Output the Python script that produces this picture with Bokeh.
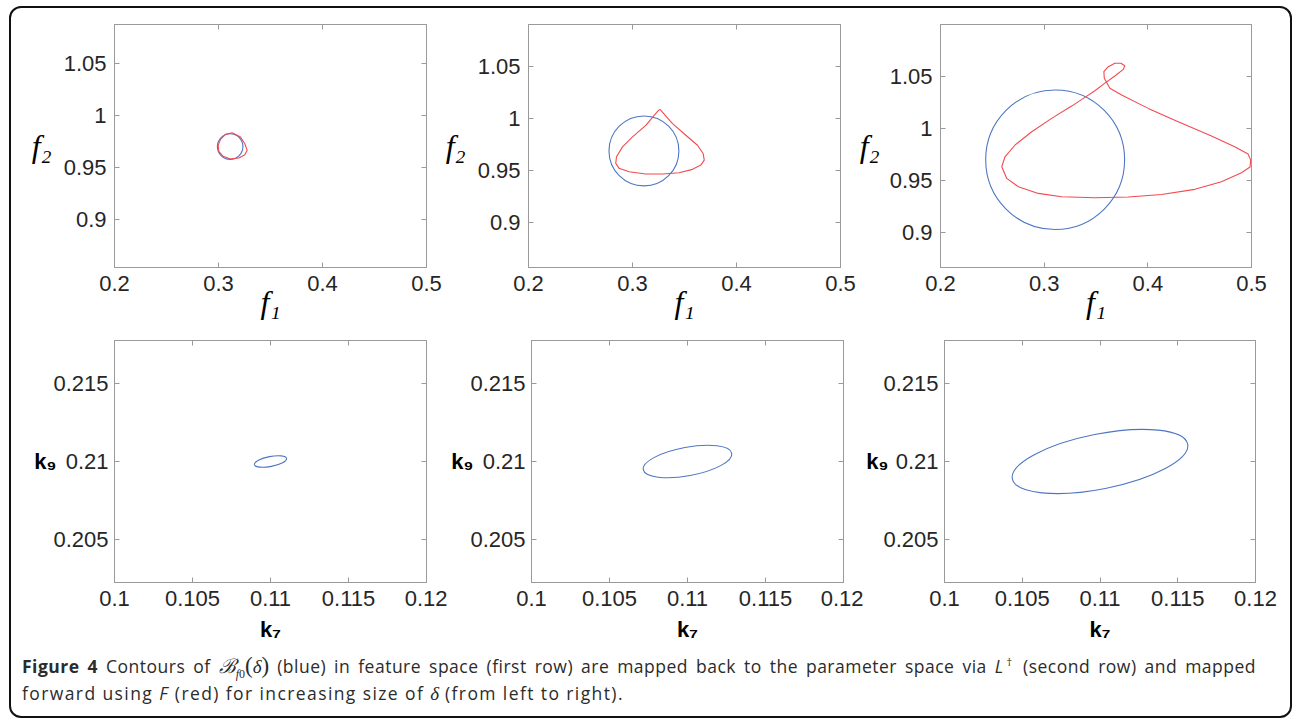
from bokeh.plotting import figure
from bokeh.models import Range1d, FixedTicker, LinearAxis, Div, Spacer
from bokeh.layouts import row, column
from bokeh.embed import file_html
from bokeh.resources import INLINE

# ---------------- data ----------------
f_xticks = [0.2, 0.3, 0.4, 0.5]
f_xlabels = ["0.2", "0.3", "0.4", "0.5"]
f_yticks = [0.9, 0.95, 1.0, 1.05]
f_ylabels = ["0.9", "0.95", "1", "1.05"]
k_xticks = [0.1, 0.105, 0.11, 0.115, 0.12]
k_xlabels = ["0.1", "0.105", "0.11", "0.115", "0.12"]
k_yticks = [0.205, 0.21, 0.215]
k_ylabels = ["0.205", "0.21", "0.215"]

f_xrange = (0.2, 0.5)
f_yranges = [(0.8535, 1.087), (0.857, 1.0905), (0.866, 1.0995)]
k_xrange = (0.1, 0.12)
k_yrange = (0.20224, 0.21776)

# blue contours in feature space (circles)
blue_cx = [0.3112, 0.3110, 0.3106]
blue_cy = [0.9697, 0.9690, 0.9695]
blue_r = [0.0123, 0.0336, 0.0670]

# red forward-mapped contours
red1_x = [0.3132, 0.3212, 0.3253, 0.3276, 0.3253, 0.3195, 0.3115, 0.3045, 0.3003, 0.2997, 0.3019, 0.3067]
red1_y = [0.9830, 0.9788, 0.9724, 0.9661, 0.9618, 0.9587, 0.9577, 0.9603, 0.9651, 0.9709, 0.9766, 0.9814]

red2_x = [0.3263, 0.3288, 0.3385, 0.3513, 0.3625, 0.3679, 0.3690, 0.3657, 0.3577, 0.3448, 0.3288,
          0.3128, 0.2967, 0.2871, 0.2839, 0.2846, 0.2904, 0.3000, 0.3128, 0.3208, 0.3250]
red2_y = [1.0089, 1.0064, 0.9953, 0.9841, 0.9745, 0.9666, 0.9602, 0.9554, 0.9513, 0.9481, 0.9468,
          0.9468, 0.9490, 0.9523, 0.9571, 0.9634, 0.9729, 0.9825, 0.9936, 1.0032, 1.0080]

red3_x = [0.2591, 0.2622, 0.2719, 0.2880, 0.3072, 0.3265, 0.3393, 0.3489, 0.3592, 0.3682, 0.3763,
          0.3778, 0.3740, 0.3682, 0.3618, 0.3576, 0.3580, 0.3634, 0.3747, 0.4004, 0.4293, 0.4614,
          0.4838, 0.4967, 0.4992, 0.4986, 0.4903, 0.4710, 0.4453, 0.4132, 0.3811, 0.3489, 0.3169,
          0.2944, 0.2751, 0.2639]
red3_y = [0.9628, 0.9724, 0.9837, 0.9964, 1.0093, 1.0211, 1.0295, 1.0359, 1.0436, 1.0500, 1.0564,
          1.0599, 1.0622, 1.0622, 1.0590, 1.0542, 1.0478, 1.0382, 1.0317, 1.0189, 1.0061, 0.9923,
          0.9820, 0.9750, 0.9692, 0.9625, 0.9570, 0.9484, 0.9411, 0.9362, 0.9337, 0.9330, 0.9340,
          0.9372, 0.9436, 0.9516]

red_x = [red1_x, red2_x, red3_x]
red_y = [red1_y, red2_y, red3_y]

# blue contours mapped back to parameter space (ellipses)
ell_cx = [0.1100, 0.1100, 0.1100]
ell_cy = [0.2100, 0.2100, 0.2100]
ell_w = [0.0021, 0.00577, 0.01149]
ell_h = [0.00064, 0.00183, 0.00353]
ell_angle = [11.0, 10.5, 11.2]

# axis titles
f_xtitle = "f\u2081"
f_ytitle = "f\u2082"
k_xtitle = "k\u2087"
k_ytitle = "k\u2089"

# ---------------- styling / layout constants ----------------
BLUE = "#4f76c4"
RED = "#f24a50"
AX = "#9a9a9a"
TXT = "#262626"

TOP_Y_STANDOFF = [9, 9, 7]
BOT_Y_STANDOFF = [-6, -6, -8]


def make_panel(width, height, mb, xr, yr, xt, xl, yt, yl, y_standoff):
    p = figure(width=width, height=height, x_range=Range1d(*xr), y_range=Range1d(*yr),
               output_backend="svg", toolbar_location=None,
               min_border_left=mb[0], min_border_right=mb[1],
               min_border_top=mb[2], min_border_bottom=mb[3])
    p.grid.visible = False
    p.outline_line_color = AX
    p.background_fill_color = "white"
    p.border_fill_color = None
    xa, ya = p.xaxis[0], p.yaxis[0]
    for ax, ticks, labels in ((xa, xt, xl), (ya, yt, yl)):
        ax.ticker = FixedTicker(ticks=ticks)
        ax.major_label_overrides = dict(zip(ticks, labels))
        ax.major_tick_in = 5
        ax.major_tick_out = 0
        ax.minor_tick_line_color = None
        ax.axis_line_color = AX
        ax.major_tick_line_color = AX
        ax.major_label_text_font = "Liberation Sans"
        ax.major_label_text_font_size = "22px"
        ax.major_label_text_color = TXT
        ax.axis_label_text_color = "black"
    xa.major_label_standoff = 8
    ya.major_label_standoff = y_standoff
    ya.axis_label_orientation = "horizontal"
    for loc, ticks in (("above", xt), ("right", yt)):
        a = LinearAxis(ticker=FixedTicker(ticks=ticks),
                       major_label_overrides={t: "" for t in ticks},
                       major_label_text_font_size="0px", major_label_standoff=0,
                       major_tick_in=5, major_tick_out=0, minor_tick_line_color=None,
                       axis_line_color=AX, major_tick_line_color=AX)
        p.add_layout(a, loc)
    return p, xa, ya


# top row: feature space
top_w = [433, 414, 436]
top_mb = [(105, 16, 18, 61), (86, 16, 18, 61), (83, 41, 18, 61)]
top_figs = []
for i in range(3):
    p, xa, ya = make_panel(top_w[i], 322, top_mb[i], f_xrange, f_yranges[i],
                           f_xticks, f_xlabels, f_yticks, f_ylabels, 8)
    p.ellipse(x=[blue_cx[i]], y=[blue_cy[i]], width=[2 * blue_r[i]], height=[2 * blue_r[i]],
              fill_color=None, line_color=BLUE, line_width=1.1)
    p.line(x=red_x[i] + red_x[i][:1], y=red_y[i] + red_y[i][:1],
           line_color=RED, line_width=1.1, line_join="round")
    xa.axis_label = f_xtitle
    ya.axis_label = f_ytitle
    for a in (xa, ya):
        a.axis_label_text_font = "Liberation Serif"
        a.axis_label_text_font_style = "italic"
        a.axis_label_text_font_size = "32px"
    xa.axis_label_standoff = -10
    ya.axis_label_standoff = TOP_Y_STANDOFF[i]
    top_figs.append(p)

# bottom row: parameter space
bot_w = [438, 416, 429]
bot_mb = [(105, 21, 12, 70), (84, 20, 12, 70), (80, 37, 12, 70)]
bot_figs = []
for i in range(3):
    p, xa, ya = make_panel(bot_w[i], 324, bot_mb[i], k_xrange, k_yrange,
                           k_xticks, k_xlabels, k_yticks, k_ylabels, 6)
    p.ellipse(x=[ell_cx[i]], y=[ell_cy[i]], width=[ell_w[i]], height=[ell_h[i]],
              angle=[ell_angle[i]], angle_units="deg",
              fill_color=None, line_color=BLUE, line_width=1.1)
    xa.axis_label = k_xtitle
    ya.axis_label = k_ytitle
    for a in (xa, ya):
        a.axis_label_text_font = "Liberation Sans"
        a.axis_label_text_font_style = "bold"
        a.axis_label_text_font_size = "22px"
    xa.axis_label_standoff = 8
    ya.axis_label_standoff = BOT_Y_STANDOFF[i]
    bot_figs.append(p)

serif = "font-family:'Liberation Serif',serif;letter-spacing:0;"
line1 = ("<b>Figure 4</b> Contours of "
         "<span style=\"font-family:'DejaVu Serif',serif;font-style:italic;font-size:20px;line-height:0;letter-spacing:0\">\u212C</span>"
         "<sub style=\"" + serif + "font-size:12px;line-height:0\"><i>f</i>0</sub>"
         "<span style=\"" + serif + "font-size:23px;line-height:0\">(</span>"
         "<i style=\"" + serif + "font-size:19px\">\u03b4</i>"
         "<span style=\"" + serif + "font-size:23px;line-height:0\">)</span>"
         " (blue) in feature space (first row) are mapped back to the parameter space via "
         "<i>L</i><sup style=\"line-height:0;font-size:11px;letter-spacing:0\">\u2020</sup> (second row) and mapped")
line2 = ("forward using <i>F</i> (red) for increasing size of "
         "<i style=\"" + serif + "font-size:19px\">\u03b4</i> (from left to right).")
cap_html = ("<div style=\"font-family:'Open Sans',sans-serif;font-size:17.5px;letter-spacing:0.5px;"
            "line-height:27px;color:#2b2b2b;margin:-4px 0 0 0;padding:0 14px 0 8px;width:1256px;\">"
            "<div style=\"text-align:justify;text-align-last:justify;\">" + line1 + "</div>"
            "<div style=\"letter-spacing:1.4px\">" + line2 + "</div></div>")
cap = Div(text=cap_html, width=1283, height=66)

content = column(row(*top_figs), row(*bot_figs), cap, width=1283, height=712,
                 styles={"outline": "2px solid #111", "outline-offset": "-2px",
                         "border-radius": "12px"})
page = column(Spacer(width=1292, height=6), row(Spacer(width=9, height=712), content),
              width=1292, height=718)

open("out.html", "w").write(file_html(page, INLINE))
